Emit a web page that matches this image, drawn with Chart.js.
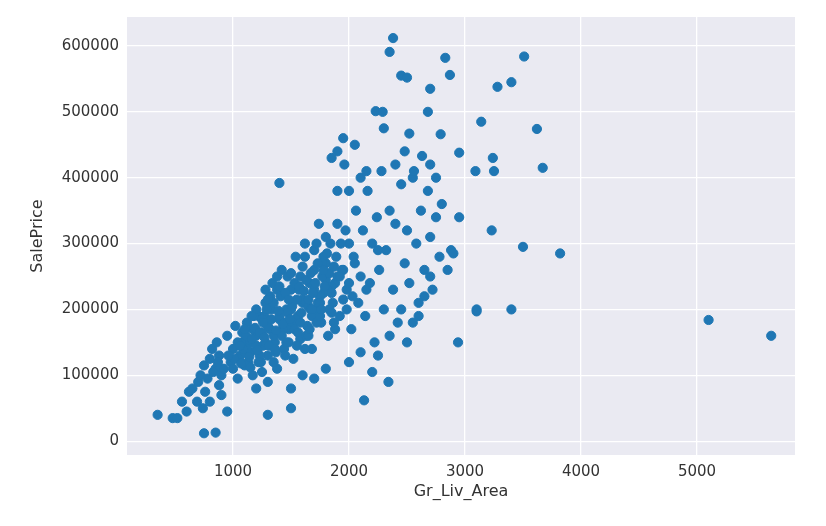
<!DOCTYPE html>
<html><head><meta charset="utf-8">
<script src="https://cdn.jsdelivr.net/npm/chart.js@4"></script>
<style>html,body{margin:0;padding:0;background:#fff}#w{width:826px;height:526px}</style>
</head><body><div id="w"><canvas id="c"></canvas></div>
<script>
const xTicks=[1000,2000,3000,4000,5000];
const yTicks=[0,100000,200000,300000,400000,500000,600000];
const areaA=[350,480,520,560,600,620,650,690,700,720,740,750,760,780,800,800,820,850,860,880,880,900,900,950,950,980,1000,1020,1040,1060,1080,1100,1120,1150,1170,1200,1220,1240,1260,1280,1300,1320,1340,1360,1380,1400,1420,1440,1460,1480,1500,1520,1540,1560,1580,1600,1620,1640,1660,1680,1700,1720,1740,1760,1780,1800,1820,1840,1860,1880,1900,1920,1940,1960,1980,2000,2020,2040,2060,2080,2100,2120,2140,2160,2180,2200,2220,2240,2260,2280,2300,2320,2350,2380,2400,2420,2450,2480,2500,2520,2550,2580,2600,2620,2650,2680,2700,2720,2750,2780,2800,2850,2880,2900];
const priceA=[40000,35000,35000,60000,45000,75000,80000,60000,90000,100000,50000,115000,75000,95000,125000,60000,140000,110000,150000,130000,85000,100000,70000,45000,160000,120000,140000,175000,95000,130000,150000,115000,180000,135000,100000,160000,190000,120000,145000,210000,130000,170000,240000,150000,110000,185000,260000,140000,200000,170000,230000,125000,280000,190000,155000,210000,300000,175000,240000,140000,260000,200000,330000,180000,225000,270000,160000,300000,210000,240000,380000,190000,260000,420000,230000,300000,170000,280000,350000,210000,250000,320000,190000,380000,240000,300000,150000,340000,260000,410000,200000,290000,350000,230000,330000,180000,390000,270000,320000,240000,400000,300000,190000,350000,260000,380000,310000,230000,340000,280000,360000,260000,290000,285000];
const areaB=[1000,1050,1100,1150,1200,1250,1300,1350,1400,1450,1500,1550,1600,1650,1700,1750,1800,1850,1900,1950,2000,1080,1130,1180,1230,1280,1330,1380,1430,1480,1530,1580,1630,1680,1730,1780,1830,1880,1930,1980,2030,1120,1170,1220,1270,1320,1370,1420,1470,1520,1570,1620,1670,1720,1770,1820,1870,1920,1970,2050,2150,2250,1500,1700,1800,2000,2100,1300,1200,1600,2450,2550,2650,2350,2250,2600,2700,2500];
const priceB=[110000,125000,135000,150000,145000,165000,175000,160000,190000,180000,200000,185000,215000,205000,230000,220000,245000,235000,250000,260000,240000,165000,120000,190000,130000,150000,200000,230000,170000,150000,240000,250000,160000,190000,210000,280000,200000,170000,300000,200000,220000,140000,170000,120000,190000,220000,135000,160000,250000,180000,230000,140000,200000,180000,270000,230000,180000,250000,320000,270000,230000,290000,80000,95000,110000,120000,135000,90000,80000,100000,200000,180000,220000,160000,130000,210000,250000,150000];
const areaC=[2380,2350,2450,2500,2830,2870,3510,3280,3400,2700,2680,2230,2290,3140,3620,2300,2520,2790,2950,3240,2630,3670,3090,3250,3820,3500,3230,2950,3100,3400,3100,2940,5100,5640,1400,750,850,1300,1500,2130,2340,2200,1900,1950,1850,2100,2000,2050,2150,2400,2480,2560,2700,2750];
const priceC=[612000,591000,555000,552000,582000,556000,584000,538000,545000,535000,500000,501000,500000,485000,474000,475000,467000,466000,438000,430000,433000,415000,410000,410000,285000,295000,320000,340000,200000,200000,197000,150000,184000,160000,392000,12000,13000,40000,50000,62000,90000,105000,440000,460000,430000,400000,380000,450000,410000,420000,440000,410000,420000,400000];
const areaD=[1010,1040,1070,1090,1110,1140,1160,1190,1210,1230,1250,1270,1290,1310,1330,1350,1370,1390,1410,1430,1450,1470,1490,1510,1530,1550,1570,1590,1610,1630,1650,1670,1690,1710,1730,1750,1770,1790,1810,1830,1850,1870,1890,1150,1250,1350,1450,1550,1650,1750,1850,1950,1100,1200,1300,1400,1500,1600,1700,1800,1900,1360,1460,1560,1660,1760,1260,1160,1060,960,920,870,830,1580,1680,1780,1480,1380,1280,1620,1720];
const priceD=[125000,150000,118000,140000,160000,128000,155000,172000,138000,165000,185000,158000,200000,145000,185000,210000,168000,198000,220000,178000,225000,195000,185000,205000,170000,215000,235000,195000,228000,245000,215000,255000,225000,240000,270000,210000,250000,235000,285000,255000,225000,265000,280000,112000,105000,120000,130000,145000,160000,190000,195000,215000,170000,200000,215000,235000,255000,265000,290000,310000,330000,140000,150000,165000,170000,200000,180000,190000,145000,130000,110000,120000,105000,180000,200000,260000,215000,250000,230000,280000,300000];
const pts=[];
[[areaA,priceA],[areaB,priceB],[areaC,priceC],[areaD,priceD]].forEach(([a,p])=>a.forEach((x,i)=>pts.push({x:x,y:p[i]})));
const bg={id:'bg',beforeDraw(ch){const a=ch.chartArea,c=ch.ctx;c.save();c.fillStyle='#EAEAF2';c.fillRect(a.left,a.top,a.right-a.left,a.bottom-a.top);c.restore();}};
new Chart(document.getElementById('c'),{type:'scatter',data:{datasets:[{data:pts,backgroundColor:'#1f77b4',borderColor:'#1f77b4',pointRadius:4.6,pointHoverRadius:4.6}]},
options:{responsive:true,maintainAspectRatio:false,animation:false,layout:{padding:{top:17,right:31,left:24,bottom:21}},
plugins:{legend:{display:false},tooltip:{enabled:false}},
scales:{x:{type:'linear',min:86,max:5845,afterFit(s){s.height=50;},afterBuildTicks(s){s.ticks=xTicks.map(v=>({value:v}));},
grid:{color:'#fff',lineWidth:1.3,drawTicks:false},border:{display:false},
ticks:{color:'#333',font:{family:'DejaVu Sans',size:15},padding:8,callback:v=>String(v)},
title:{display:true,text:'Gr_Liv_Area',color:'#333',font:{family:'DejaVu Sans',size:16},padding:{top:4}}},
y:{type:'linear',min:-21000,max:644000,afterFit(s){s.width=103;},afterBuildTicks(s){s.ticks=yTicks.map(v=>({value:v}));},
grid:{color:'#fff',lineWidth:1.3,drawTicks:false},border:{display:false},
ticks:{color:'#333',font:{family:'DejaVu Sans',size:15},padding:8,callback:v=>String(v)},
title:{display:true,text:'SalePrice',color:'#333',font:{family:'DejaVu Sans',size:16},padding:{bottom:4}}}}},plugins:[bg]});
</script></body></html>
